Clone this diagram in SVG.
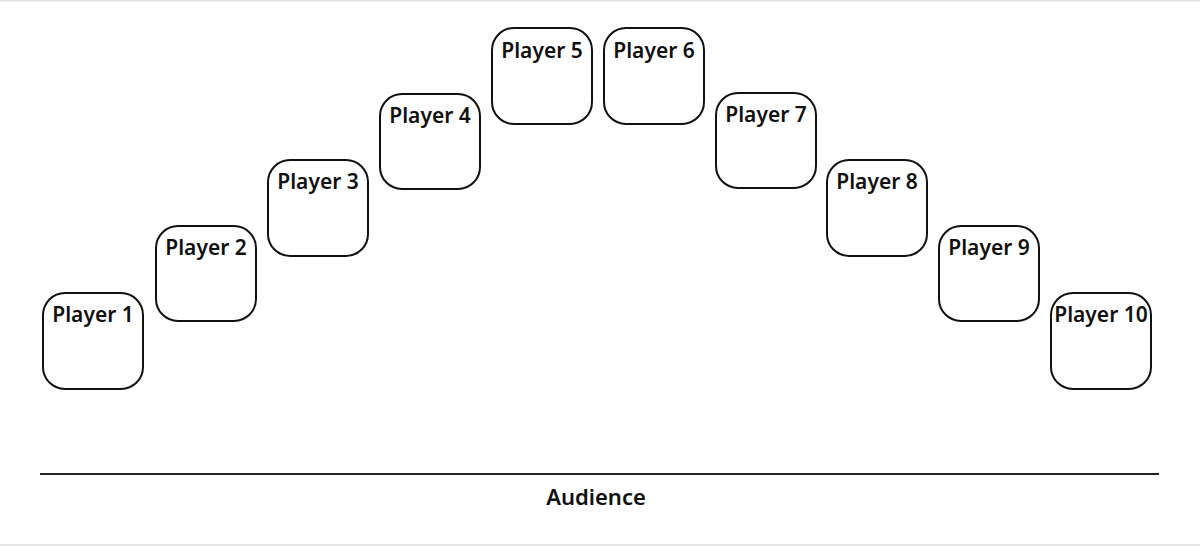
<svg xmlns="http://www.w3.org/2000/svg" width="1200" height="546" viewBox="0 0 1200 546">
<style>
.box{fill:#fff;stroke:#111;stroke-width:2}
.lbl{font-family:"Noto Sans","DejaVu Sans",sans-serif;font-size:21px;font-weight:600;fill:#111;text-anchor:middle}
.aud{font-family:"Noto Sans","DejaVu Sans",sans-serif;font-size:22px;font-weight:600;fill:#111;text-anchor:middle}
</style>
<rect x="0" y="0" width="1200" height="546" fill="#fff"/>
<rect x="0" y="0" width="1200" height="1.5" fill="#e3e3e3"/>
<rect x="0" y="544" width="1200" height="2" fill="#e6e6e6"/>
<g id="player1"><rect class="box" x="43" y="293" width="100" height="96" rx="22"/><text class="lbl" x="93" y="322">Player 1</text></g>
<g id="player2"><rect class="box" x="156" y="226" width="100" height="95" rx="22"/><text class="lbl" x="206" y="255">Player 2</text></g>
<g id="player3"><rect class="box" x="268" y="160" width="100" height="96" rx="22"/><text class="lbl" x="318" y="189">Player 3</text></g>
<g id="player4"><rect class="box" x="380" y="94" width="100" height="95" rx="22"/><text class="lbl" x="430" y="123">Player 4</text></g>
<g id="player5"><rect class="box" x="492" y="28" width="100" height="96" rx="22"/><text class="lbl" x="542" y="58">Player 5</text></g>
<g id="player6"><rect class="box" x="604" y="28" width="100" height="96" rx="22"/><text class="lbl" x="654" y="58">Player 6</text></g>
<g id="player7"><rect class="box" x="716" y="93" width="100" height="95" rx="22"/><text class="lbl" x="766" y="122">Player 7</text></g>
<g id="player8"><rect class="box" x="827" y="160" width="100" height="96" rx="22"/><text class="lbl" x="877" y="189">Player 8</text></g>
<g id="player9"><rect class="box" x="939" y="226" width="100" height="95" rx="22"/><text class="lbl" x="989" y="255">Player 9</text></g>
<g id="player10"><rect class="box" x="1051" y="293" width="100" height="96" rx="22"/><text class="lbl" x="1101" y="322">Player 10</text></g>
<g id="connectors">
<line x1="40" y1="474" x2="1159" y2="474" stroke="#222" stroke-width="2.2"/>
</g>
<g id="audience"><text class="aud" x="596" y="505">Audience</text></g>
</svg>
